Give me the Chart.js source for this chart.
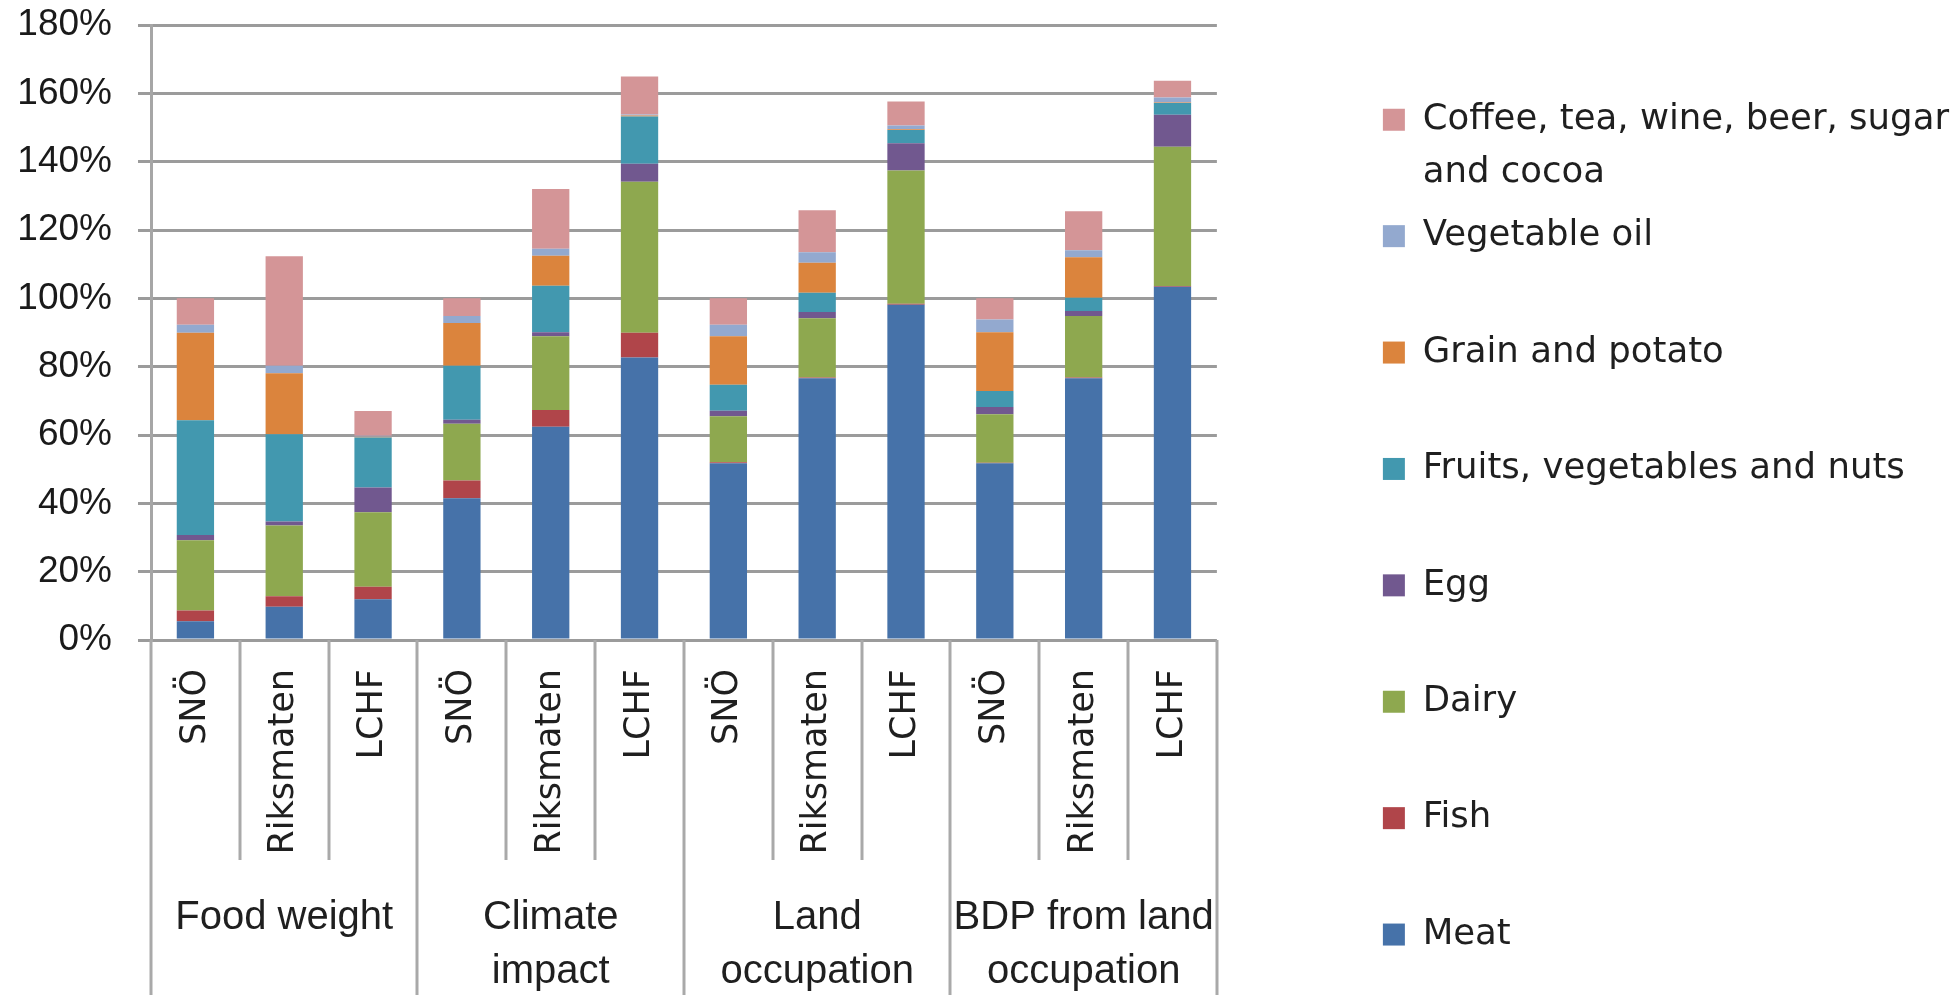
<!DOCTYPE html>
<html>
<head>
<meta charset="utf-8">
<script src="https://cdn.jsdelivr.net/npm/chart.js@4/dist/chart.umd.min.js"></script>
<style>
  html, body { margin: 0; padding: 0; background: #fff; }
  #wrap { width: 1959px; height: 995px; position: relative; }
</style>
</head>
<body>
<div id="wrap"><canvas id="diets"></canvas></div>
<script>
// three diets per indicator, four indicators
const diets = ['SNÖ', 'Riksmaten', 'LCHF', 'SNÖ', 'Riksmaten', 'LCHF',
               'SNÖ', 'Riksmaten', 'LCHF', 'SNÖ', 'Riksmaten', 'LCHF'];
const indicators = ['Food weight', ['Climate', 'impact'], ['Land', 'occupation'], ['BDP from land', 'occupation']];
const yTicks = [0, 20, 40, 60, 80, 100, 120, 140, 160, 180];

// share of SNÖ total, in percent
const meat       = [5.5, 9.7, 11.9, 41.5, 62.4, 82.7, 51.7, 76.6, 98.1, 51.7, 76.6, 103.4];
const fish       = [3.1, 3.1, 3.7, 5.2, 4.9, 7.2, 0.3, 0.2, 0.3, 0.2, 0.2, 0.2];
const dairy      = [20.6, 20.7, 21.8, 16.6, 21.6, 44.2, 13.5, 17.4, 39.0, 14.2, 18.0, 40.8];
const egg        = [1.5, 1.2, 7.2, 1.2, 1.2, 5.3, 1.6, 1.8, 8.0, 2.1, 1.5, 9.3];
const fruits     = [33.6, 25.5, 14.7, 15.8, 13.6, 13.8, 7.6, 5.6, 3.9, 4.7, 3.9, 3.5];
const grain      = [25.6, 17.9, 0.2, 12.5, 8.8, 0.3, 14.2, 8.8, 0.2, 17.2, 11.8, 0.1];
const vegOil     = [2.4, 2.2, 0.3, 2.0, 2.0, 0.3, 3.4, 3.1, 1.1, 3.7, 2.1, 1.5];
const luxuries   = [7.7, 32.0, 7.2, 5.2, 17.5, 11.1, 7.7, 12.3, 7.0, 6.2, 11.4, 4.9];

const series = [
  { label: 'Meat', data: meat, color: '#4672a9' },
  { label: 'Fish', data: fish, color: '#b0454a' },
  { label: 'Dairy', data: dairy, color: '#8ea84f' },
  { label: 'Egg', data: egg, color: '#71588f' },
  { label: 'Fruits, vegetables and nuts', data: fruits, color: '#4298af' },
  { label: 'Grain and potato', data: grain, color: '#db843d' },
  { label: 'Vegetable oil', data: vegOil, color: '#93a9cf' },
  { label: 'Coffee, tea, wine, beer, sugar\nand cocoa', data: luxuries, color: '#d49597' }
];

const perGroup = 3;

// vertical dividers under the axis: short between diets, full height between indicators
const dividers = {
  id: 'dividers',
  afterDraw(chart) {
    const { ctx, chartArea, scales: { x } } = chart;
    const step = x.getPixelForValue(1) - x.getPixelForValue(0);
    ctx.save();
    ctx.strokeStyle = '#a9a9a9';
    ctx.lineWidth = 3;
    for (let i = 0; i <= diets.length; i++) {
      const px = Math.round(x.getPixelForValue(i) - step / 2);
      const end = i % perGroup === 0 ? chart.height : 860;
      ctx.beginPath();
      ctx.moveTo(px, chartArea.bottom);
      ctx.lineTo(px, end);
      ctx.stroke();
    }
    ctx.restore();
  }
};

const defaultLabels = Chart.defaults.plugins.legend.labels.generateLabels;

new Chart(document.getElementById('diets'), {
  type: 'bar',
  data: {
    labels: diets,
    datasets: series.map(s => ({
      label: s.label,
      data: s.data,
      backgroundColor: s.color,
      borderWidth: 0,
      barPercentage: 0.42,
      categoryPercentage: 1.0
    }))
  },
  plugins: [dividers],
  options: {
    responsive: true,
    maintainAspectRatio: false,
    animation: false,
    devicePixelRatio: 1,
    layout: { padding: { top: 25, left: 0, right: 0, bottom: 0 } },
    plugins: {
      tooltip: { enabled: false },
      legend: {
        position: 'right',
        align: 'start',
        reverse: true,
        maxWidth: 700,
        title: { display: true, text: ' ', padding: { top: 55, bottom: 0 }, font: { size: 10 } },
        labels: {
          font: { family: 'DejaVu Sans', size: 35.5, lineHeight: 53.2 / 35.5 },
          color: '#1f1f1f',
          boxWidth: 22,
          boxHeight: 22,
          padding: 10,
          generateLabels(chart) {
            // every entry takes two text lines so the spacing stays even;
            // the bottom one (Meat) stays single so the column fits
            return defaultLabels(chart).map((item, i) => {
              const lines = item.text.split('\n');
              if (i > 0 && lines.length < 2) lines.push('');
              return { ...item, text: i === 0 ? lines[0] : lines };
            });
          }
        }
      }
    },
    scales: {
      x: {
        stacked: true,
        offset: true,
        weight: 0,
        grid: { display: false },
        border: { display: false },
        ticks: {
          autoSkip: false,
          minRotation: 90,
          maxRotation: 90,
          padding: 21,
          color: '#1f1f1f',
          font: { family: 'DejaVu Sans', size: 35 }
        },
        afterFit(s) { s.height = 239; }
      },
      x2: {
        type: 'category',
        labels: indicators,
        position: 'bottom',
        offset: true,
        weight: 1,
        grid: { display: false },
        border: { display: false },
        ticks: {
          autoSkip: false,
          maxRotation: 0,
          minRotation: 0,
          padding: 4,
          color: '#1f1f1f',
          font: { family: 'Liberation Sans', size: 40, lineHeight: 1.35 }
        },
        afterFit(s) { s.height = 116; }
      },
      y: {
        stacked: true,
        min: 0,
        max: 180,
        afterBuildTicks(s) { s.ticks = yTicks.map(v => ({ value: v })); },
        grid: { color: '#9b9b9b', lineWidth: 3, tickLength: 13, drawTicks: true },
        border: { display: true, color: '#a6a6a6', width: 3 },
        ticks: {
          padding: 26,
          color: '#1a1a1a',
          font: { family: 'Liberation Sans', size: 37 },
          callback: v => v + '%'
        },
        afterFit(s) {
          s.width = 151;
          s.paddingTop = 0;
          s.paddingBottom = 0;
        }
      },
      // empty strip between the plot and the legend
      gap: {
        type: 'linear',
        position: 'right',
        grid: { display: false },
        border: { display: false },
        ticks: { display: false },
        afterFit(s) { s.width = 156; }
      }
    }
  }
});
</script>
</body>
</html>
